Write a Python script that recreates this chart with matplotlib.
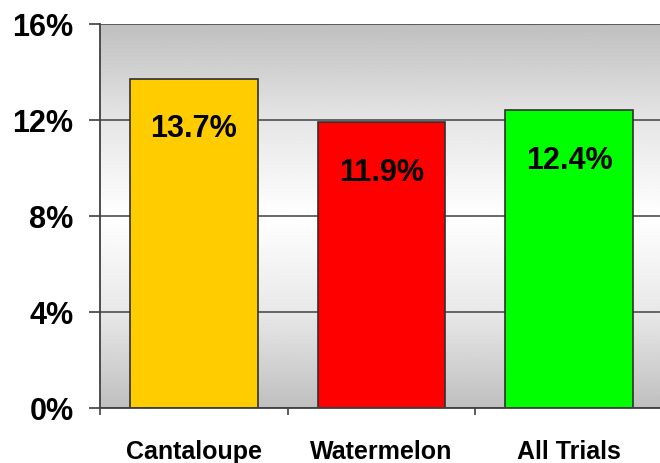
import numpy as np
import matplotlib
matplotlib.use("Agg")
import matplotlib.pyplot as plt

categories = ["Cantaloupe", "Watermelon", "All Trials"]
values = [13.7, 11.9, 12.4]
labels = ["13.7%", "11.9%", "12.4%"]
colors = ["#FFCC00", "#FF0000", "#00FF00"]
yticks = [0, 4, 8, 12, 16]
ytick_labels = ["0%", "4%", "8%", "12%", "16%"]

plt.rcParams['font.family'] = ['Liberation Sans', 'DejaVu Sans']

fig = plt.figure(figsize=(6.6, 4.64), dpi=100)
ax = fig.add_axes([100/660, 55/464, 563/660, 384/464])

# gradient background: gray at top/bottom, white in middle
yy = np.linspace(0, 16, 400)
shade = np.interp(yy, [0, 4, 8, 12, 16], [0.75, 0.91, 1.0, 0.90, 0.75])
img = np.repeat(shade[:, None], 2, axis=1)
ax.imshow(img, cmap='gray', vmin=0, vmax=1, aspect='auto',
          extent=(-0.5, 2.5, 0, 16), origin='lower', zorder=0,
          interpolation='bilinear')

x = np.arange(len(categories))
ax.bar(x, values, width=0.68, color=colors, edgecolor='#303030',
       linewidth=1.2, zorder=2)

for xi, v, lab in zip(x, values, labels):
    ax.text(xi, v - 2.05, lab, ha='center', va='center',
            fontsize=22, fontweight='bold', color='black', zorder=3)

ax.set_xlim(-0.5, 2.5)
ax.set_ylim(0, 16)
ax.set_yticks(yticks)
ax.set_yticklabels(ytick_labels, fontsize=22, fontweight='bold')
ax.set_xticks(x)
ax.set_xticklabels(categories, fontsize=18, fontweight='bold')
ax.set_xticks([-0.5, 0.5, 1.5, 2.5], minor=True)

ax.tick_params(axis='y', length=8, width=1.2, color='#404040', pad=11)
ax.tick_params(axis='x', which='major', length=0, pad=22)
ax.tick_params(axis='x', which='minor', length=5, width=1.2, color='#404040')

ax.yaxis.grid(True, color='#404040', linewidth=1.1)
ax.set_axisbelow(True)

for s in ['top', 'right']:
    ax.spines[s].set_visible(False)
for s in ['left', 'bottom']:
    ax.spines[s].set_color('#404040')
    ax.spines[s].set_linewidth(1.3)

fig.savefig("out.png", dpi=100)
